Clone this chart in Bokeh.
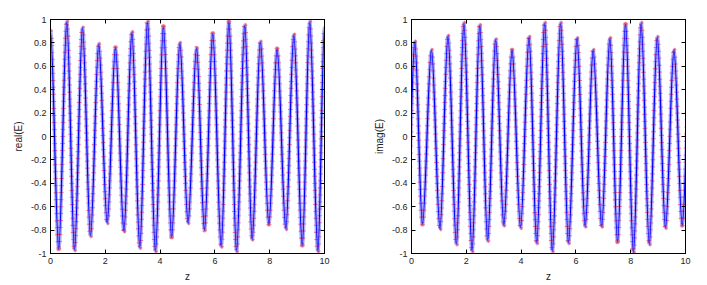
import numpy as np
from bokeh.plotting import figure
from bokeh.layouts import row
from bokeh.models import LinearAxis, FixedTicker, Range1d, ColumnDataSource
from bokeh.embed import file_html
from bokeh.resources import INLINE

# Extrema (z position, value) of real(E)
real_z = [0.0, 0.30, 0.595, 0.876, 1.168, 1.46, 1.76, 2.07, 2.37, 2.68,
          2.97, 3.26, 3.54, 3.83, 4.12, 4.42, 4.72, 5.02, 5.33, 5.62,
          5.92, 6.23, 6.51, 6.79, 7.09, 7.36, 7.66, 7.97, 8.27, 8.59,
          8.88, 9.19, 9.46, 9.76, 10.0]
real_v = [0.90, -0.96, 0.98, -0.97, 0.93, -0.85, 0.79, -0.74, 0.76, -0.81,
          0.89, -0.95, 0.98, -0.98, 0.94, -0.86, 0.80, -0.74, 0.755, -0.80,
          0.88, -0.94, 0.98, -0.98, 0.95, -0.88, 0.81, -0.75, 0.75, -0.79,
          0.87, -0.93, 0.98, -0.98, 0.93]

# Extrema (z position, value) of imag(E)
imag_z = [-0.16, 0.12, 0.40, 0.73, 1.04, 1.33, 1.64, 1.91, 2.21, 2.49,
          2.78, 3.07, 3.37, 3.67, 3.98, 4.29, 4.57, 4.86, 5.14, 5.44,
          5.73, 6.04, 6.34, 6.63, 6.94, 7.24, 7.52, 7.81, 8.10, 8.38,
          8.68, 8.97, 9.27, 9.58, 9.88, 10.2]
imag_v = [-0.74, 0.81, -0.75, 0.74, -0.79, 0.86, -0.92, 0.97, -0.98, 0.95,
          -0.89, 0.83, -0.76, 0.74, -0.78, 0.85, -0.91, 0.97, -0.98, 0.97,
          -0.91, 0.84, -0.77, 0.74, -0.77, 0.84, -0.90, 0.96, -0.99, 0.97,
          -0.92, 0.85, -0.78, 0.74, -0.76, 0.80]

x_ticks = [0, 2, 4, 6, 8, 10]
x_labels = ["0", "2", "4", "6", "8", "10"]
y_ticks = [-1, -0.8, -0.6, -0.4, -0.2, 0, 0.2, 0.4, 0.6, 0.8, 1]
y_labels = ["-1", "-0.8", "-0.6", "-0.4", "-0.2", "0", "0.2", "0.4", "0.6", "0.8", "1"]

FONT = "Liberation Sans"


def segments(zs, vs):
    z = np.asarray(zs, dtype=float)
    v = np.asarray(vs, dtype=float)
    x0, x1 = z[:-1], z[1:]
    y0, y1 = v[:-1], v[1:]
    d = (x1 - x0) / 3.0
    return ColumnDataSource(dict(x0=x0, y0=y0, x1=x1, y1=y1,
                                 cx0=x0 + d, cy0=y0, cx1=x1 - d, cy1=y1))


def style_axis(ax, ticks, labels, show_labels=True):
    ax.ticker = FixedTicker(ticks=ticks)
    ax.major_tick_in = 4
    ax.major_tick_out = 0
    ax.minor_tick_line_color = None
    ax.axis_line_color = "black"
    ax.major_tick_line_color = "black"
    ax.major_label_text_font = FONT
    ax.major_label_text_color = "#222222"
    ax.major_label_text_font_size = "9px"
    ax.axis_label_text_font = FONT
    ax.axis_label_text_font_style = "normal"
    ax.axis_label_text_font_size = "10px"
    ax.axis_label_text_color = "#222222"
    if show_labels:
        ax.major_label_overrides = dict(zip(ticks, labels))
        ax.major_label_standoff = 4
        ax.axis_label_standoff = 4
    else:
        ax.major_label_overrides = {t: "" for t in ticks}
        ax.major_label_standoff = 0


def make(zs, vs, ylabel, b_left, b_right):
    p = figure(frame_width=274, frame_height=234,
               x_range=Range1d(0, 10), y_range=Range1d(-1, 1),
               output_backend="svg", toolbar_location=None,
               min_border_left=b_left, min_border_right=b_right,
               min_border_top=19, min_border_bottom=28)
    p.grid.visible = False
    p.outline_line_color = "black"
    p.background_fill_color = "white"
    p.border_fill_color = "white"

    p.xaxis.axis_label = "z"
    p.yaxis.axis_label = ylabel
    for ax in p.xaxis:
        style_axis(ax, x_ticks, x_labels)
    for ax in p.yaxis:
        style_axis(ax, y_ticks, y_labels)

    top = LinearAxis()
    right = LinearAxis()
    style_axis(top, x_ticks, x_labels, False)
    style_axis(right, y_ticks, y_labels, False)
    p.add_layout(top, "above")
    p.add_layout(right, "right")

    src = segments(zs, vs)
    kw = dict(x0="x0", y0="y0", x1="x1", y1="y1",
              cx0="cx0", cy0="cy0", cx1="cx1", cy1="cy1", source=src)
    p.bezier(line_color="#5555ff", line_alpha=0.5, line_width=3.5, **kw)
    p.bezier(line_color="red", line_alpha=0.45, line_width=5,
             line_dash="1 6", **kw)
    p.bezier(line_color="#0000ff", line_width=1.2, **kw)
    return p


p1 = make(real_z, real_v, "real(E)", 50, 16)
p2 = make(imag_z, imag_v, "imag(E)", 71, 14)

layout = row(p1, p2)
open("out.html", "w").write(file_html(layout, INLINE))
